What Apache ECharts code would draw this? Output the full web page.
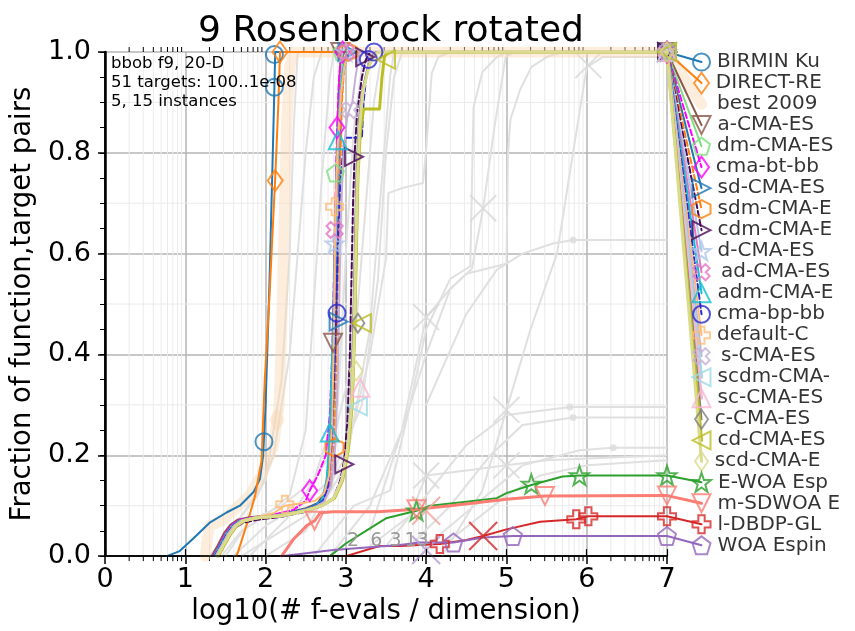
<!DOCTYPE html>
<html><head><meta charset="utf-8">
<script src="https://cdn.jsdelivr.net/npm/echarts/dist/echarts.min.js"></script>
<style>html,body{margin:0;padding:0;background:#fff}#c{width:855px;height:631px}</style>
</head><body><div id="c"></div>
<script>
// ---------- legend names ----------
const NAMES = ['BIRMIN Ku','DIRECT-RE','best 2009','a-CMA-ES','dm-CMA-ES','cma-bt-bb','sd-CMA-ES','sdm-CMA-E','cdm-CMA-E','d-CMA-ES','ad-CMA-ES','adm-CMA-E','cma-bp-bb','default-C','s-CMA-ES','scdm-CMA-','sc-CMA-ES','c-CMA-ES','cd-CMA-ES','scd-CMA-E','E-WOA Esp','m-SDWOA E','l-DBDP-GL','WOA Espin'];
const X_TICKS = [0,1,2,3,4,5,6,7];

// ---------- series values [log10(evals/dim), fraction] ----------
const BIRMIN = [[0.77,0],[0.93,0.01],[1.1,0.035],[1.31,0.067],[1.52,0.087],[1.68,0.1],[1.85,0.127],[1.93,0.153],[1.97,0.2],[2.0,0.3],[2.05,0.55],[2.09,0.8],[2.11,0.93],[2.12,1.0],[7,1.0]];
const BIRMIN_M = [[1.98,0.227],[2.11,0.93],[2.11,0.995],[7,1.0]];
const DIRECT = [[1.64,0],[1.72,0.04],[1.79,0.075],[1.87,0.12],[1.95,0.19],[1.99,0.35],[2.05,0.52],[2.12,0.75],[2.16,0.9],[2.18,1.0],[7,1.0]];
const DIRECT_M = [[2.12,0.745],[2.18,1.0],[7,1.0]];
const BEST2009 = [[1.25,0],[1.27,0.03],[1.3,0.06],[1.45,0.07],[1.6,0.09],[1.8,0.12],[1.95,0.16],[2.1,0.22],[2.17,0.3],[2.2,0.45],[2.23,0.65],[2.26,0.85],[2.3,0.97],[2.35,1.0],[7,1.0]];
const BEST2009_M = [[2.14,0.27]];
const A_CMA = [[1.33,0],[1.4,0.02],[1.48,0.045],[1.56,0.062],[1.65,0.072],[1.8,0.077],[2.0,0.08],[2.3,0.087],[2.5,0.095],[2.65,0.105],[2.74,0.13],[2.79,0.18],[2.82,0.28],[2.84,0.42],[2.86,0.58],[2.88,0.74],[2.9,0.87],[2.92,0.95],[2.94,1.0],[7,1.0]];
const A_CMA_M = [[2.84,0.423],[2.93,1.0],[7,1.0]];
const DM_CMA = [[1.37,0],[1.44,0.02],[1.52,0.042],[1.6,0.06],[1.68,0.07],[1.85,0.076],[2.1,0.08],[2.35,0.087],[2.55,0.095],[2.68,0.106],[2.77,0.13],[2.82,0.19],[2.85,0.3],[2.87,0.5],[2.88,0.65],[2.89,0.76],[2.91,0.87],[2.94,0.95],[2.97,1.0],[7,1.0]];
const DM_CMA_M = [[2.87,0.76],[2.95,1.0],[7,1.0]];
const CMA_BT = [[1.35,0],[1.42,0.02],[1.5,0.045],[1.58,0.062],[1.68,0.072],[1.85,0.077],[2.1,0.082],[2.35,0.092],[2.5,0.11],[2.55,0.13],[2.65,0.16],[2.75,0.2],[2.8,0.28],[2.83,0.4],[2.85,0.55],[2.87,0.7],[2.89,0.84],[2.91,0.93],[2.94,1.0],[7,1.0]];
const CMA_BT_M = [[2.55,0.13],[2.89,0.85],[2.96,1.0],[7,1.0]];
const SD_CMA = [[1.36,0],[1.43,0.02],[1.51,0.042],[1.6,0.06],[1.7,0.07],[1.85,0.076],[2.1,0.08],[2.35,0.088],[2.55,0.096],[2.68,0.108],[2.76,0.135],[2.81,0.2],[2.85,0.33],[2.88,0.47],[2.9,0.63],[2.92,0.78],[2.94,0.9],[2.97,0.96],[3.02,1.0],[7,1.0]];
const SD_CMA_M = [[2.91,0.465],[3.02,1.0],[7,1.0]];
const SDM_CMA = [[1.37,0],[1.44,0.02],[1.52,0.043],[1.6,0.06],[1.7,0.07],[1.85,0.076],[2.1,0.08],[2.4,0.088],[2.6,0.097],[2.72,0.11],[2.8,0.14],[2.85,0.2],[2.87,0.3],[2.89,0.45],[2.91,0.62],[2.93,0.78],[2.95,0.9],[2.98,0.97],[3.03,1.0],[7,1.0]];
const SDM_CMA_M = [[2.86,0.215],[3.03,1.0],[7,1.0]];
const CDM_CMA = [[1.4,0],[1.47,0.02],[1.55,0.04],[1.63,0.057],[1.72,0.066],[1.9,0.072],[2.2,0.078],[2.5,0.088],[2.7,0.1],[2.84,0.113],[2.93,0.15],[2.98,0.19],[3.02,0.27],[3.05,0.4],[3.07,0.55],[3.09,0.7],[3.11,0.8],[3.14,0.88],[3.2,0.95],[3.25,0.985],[3.3,1.0],[7,1.0]];
const CDM_CMA_M = [[2.98,0.182],[3.1,0.792],[3.24,0.99],[7,1.0]];
const D_CMA = [[1.38,0],[1.45,0.02],[1.53,0.043],[1.61,0.06],[1.7,0.07],[1.85,0.076],[2.1,0.08],[2.4,0.088],[2.6,0.097],[2.72,0.11],[2.79,0.14],[2.83,0.22],[2.85,0.36],[2.86,0.5],[2.87,0.62],[2.9,0.78],[2.93,0.9],[2.97,0.97],[3.02,1.0],[7,1.0]];
const D_CMA_M = [[2.86,0.62],[3.0,1.0],[7,1.0]];
const AD_CMA = [[1.37,0],[1.44,0.02],[1.52,0.044],[1.6,0.061],[1.7,0.07],[1.85,0.076],[2.1,0.08],[2.4,0.088],[2.6,0.096],[2.72,0.11],[2.79,0.14],[2.83,0.23],[2.85,0.38],[2.86,0.52],[2.87,0.65],[2.9,0.8],[2.93,0.91],[2.97,0.97],[3.02,1.0],[7,1.0]];
const AD_CMA_M = [[2.86,0.647],[3.0,1.0],[7,1.0]];
const ADM_CMA = [[1.36,0],[1.43,0.02],[1.51,0.044],[1.59,0.061],[1.68,0.07],[1.85,0.076],[2.1,0.08],[2.4,0.088],[2.6,0.097],[2.7,0.11],[2.76,0.15],[2.79,0.22],[2.81,0.3],[2.84,0.45],[2.86,0.6],[2.88,0.74],[2.9,0.83],[2.93,0.92],[2.97,0.97],[3.02,1.0],[7,1.0]];
const ADM_CMA_M = [[2.8,0.245],[2.9,0.825],[7,1.0]];
const CMA_BP = [[1.37,0],[1.44,0.02],[1.52,0.044],[1.6,0.061],[1.7,0.07],[1.85,0.076],[2.1,0.08],[2.4,0.088],[2.6,0.097],[2.72,0.11],[2.78,0.14],[2.82,0.22],[2.85,0.33],[2.88,0.48],[2.9,0.62],[2.93,0.74],[2.97,0.81],[2.99,0.83],[3.2,0.83],[3.22,0.9],[3.26,0.96],[3.3,0.99],[3.36,1.0],[7,1.0]];
const CMA_BP_M = [[2.89,0.482],[3.28,0.985],[3.35,1.0],[7,1.0]];
const DEFAULT_C = [[1.38,0],[1.45,0.02],[1.53,0.044],[1.61,0.061],[1.7,0.07],[1.85,0.076],[2.1,0.085],[2.24,0.1],[2.45,0.105],[2.62,0.11],[2.73,0.125],[2.79,0.16],[2.83,0.27],[2.85,0.43],[2.86,0.57],[2.87,0.69],[2.9,0.82],[2.94,0.92],[2.98,0.97],[3.03,1.0],[7,1.0]];
const DEFAULT_C_M = [[2.24,0.103],[2.86,0.693],[7,1.0]];
const S_CMA = [[1.38,0],[1.45,0.02],[1.53,0.043],[1.61,0.06],[1.7,0.07],[1.85,0.076],[2.1,0.08],[2.4,0.088],[2.6,0.096],[2.73,0.108],[2.82,0.14],[2.87,0.22],[2.9,0.36],[2.92,0.52],[2.94,0.68],[2.97,0.8],[3.02,0.875],[3.08,0.9],[3.12,0.95],[3.17,1.0],[7,1.0]];
const S_CMA_M = [[3.05,0.885],[7,1.0]];
const SCDM_CMA = [[1.4,0],[1.47,0.02],[1.55,0.043],[1.63,0.06],[1.72,0.07],[1.9,0.076],[2.2,0.08],[2.5,0.09],[2.7,0.1],[2.85,0.115],[2.95,0.15],[3.02,0.21],[3.07,0.3],[3.1,0.45],[3.12,0.6],[3.14,0.75],[3.17,0.86],[3.21,0.92],[3.24,0.944],[3.28,0.97],[3.33,1.0],[7,1.0]];
const SCDM_CMA_M = [[3.15,0.297],[7,1.0]];
const SC_CMA = [[1.41,0],[1.48,0.02],[1.56,0.043],[1.64,0.06],[1.73,0.07],[1.9,0.076],[2.2,0.08],[2.5,0.09],[2.7,0.1],[2.85,0.115],[2.95,0.15],[3.03,0.22],[3.08,0.32],[3.11,0.47],[3.13,0.62],[3.15,0.77],[3.18,0.87],[3.22,0.93],[3.28,0.97],[3.34,1.0],[7,1.0]];
const SC_CMA_M = [[3.18,0.334],[7,1.0]];
const C_CMA = [[1.4,0],[1.47,0.02],[1.55,0.043],[1.63,0.06],[1.72,0.07],[1.9,0.076],[2.2,0.08],[2.5,0.09],[2.7,0.1],[2.85,0.115],[2.95,0.15],[3.02,0.21],[3.06,0.3],[3.09,0.45],[3.11,0.6],[3.13,0.75],[3.16,0.86],[3.2,0.92],[3.26,0.96],[3.32,0.99],[3.38,1.0],[7,1.0]];
const C_CMA_M = [[3.15,0.462],[7,1.0]];
const CD_CMA = [[1.41,0],[1.48,0.02],[1.56,0.043],[1.64,0.06],[1.73,0.07],[1.9,0.076],[2.2,0.08],[2.5,0.09],[2.7,0.1],[2.86,0.115],[2.96,0.15],[3.03,0.21],[3.08,0.3],[3.11,0.45],[3.13,0.6],[3.15,0.75],[3.18,0.84],[3.22,0.887],[3.42,0.887],[3.45,0.95],[3.48,0.99],[3.52,1.0],[7,1.0]];
const CD_CMA_M = [[3.2,0.462],[3.5,0.985],[7,1.0]];
const SCD_CMA = [[1.4,0],[1.47,0.02],[1.55,0.043],[1.63,0.06],[1.72,0.07],[1.9,0.076],[2.2,0.08],[2.5,0.09],[2.7,0.1],[2.85,0.115],[2.95,0.15],[3.02,0.21],[3.07,0.3],[3.1,0.42],[3.12,0.58],[3.14,0.73],[3.17,0.85],[3.21,0.92],[3.27,0.96],[3.33,0.99],[3.4,1.0],[7,1.0]];
const SCD_CMA_M = [[3.13,0.367],[7,1.0]];
const E_WOA = [[2.8,0],[3.0,0.025],[3.25,0.05],[3.5,0.075],[3.88,0.09],[4.05,0.1],[4.5,0.108],[4.88,0.115],[5.0,0.125],[5.31,0.141],[5.7,0.158],[5.91,0.16],[7,0.16]];
const E_WOA_M = [[3.88,0.09],[5.31,0.143],[5.91,0.16],[7,0.16]];
const M_SDWOA = [[2.2,0],[2.35,0.034],[2.51,0.06],[2.61,0.07],[2.68,0.086],[2.84,0.088],[3.4,0.088],[3.88,0.093],[4.3,0.1],[5.0,0.113],[5.48,0.119],[7,0.12]];
const M_SDWOA_M = [[2.61,0.07],[3.88,0.093],[5.48,0.119],[7,0.12]];
const L_DBDP = [[3.0,0],[3.42,0.02],[3.67,0.02],[4.17,0.024],[4.5,0.032],[4.71,0.04],[5.0,0.053],[5.42,0.068],[5.87,0.073],[6.02,0.079],[7,0.079]];
const L_DBDP_M = [[4.17,0.024],[5.87,0.073],[6.02,0.079],[7,0.079]];
const WOA = [[2.22,0],[2.84,0.012],[3.67,0.022],[3.92,0.027],[4.34,0.027],[4.71,0.037],[5.08,0.04],[7,0.04]];
const WOA_M = [[4.34,0.027],[5.08,0.04],[7,0.04]];

// background (other algorithms, grey)
const GRAY_1 = [[1.3,0],[1.6,0.06],[1.9,0.12],[2.1,0.2],[2.3,0.4],[2.4,0.6],[2.5,0.8],[2.6,0.95],[2.7,1.0]];
const GRAY_2 = [[1.45,0],[1.7,0.05],[2.0,0.08],[2.3,0.12],[2.5,0.25],[2.6,0.5],[2.7,0.75],[2.8,0.95],[2.85,1.0]];
const GRAY_3 = [[1.5,0],[1.8,0.07],[2.2,0.1],[2.6,0.15],[2.9,0.3],[3.0,0.6],[3.1,0.85],[3.2,0.97],[3.3,1.0]];
const GRAY_4 = [[1.6,0],[2.0,0.06],[2.4,0.1],[2.8,0.2],[3.1,0.4],[3.25,0.7],[3.35,0.9],[3.45,1.0]];
const GRAY_5 = [[1.7,0],[2.2,0.05],[2.7,0.1],[3.0,0.18],[3.3,0.45],[3.45,0.75],[3.55,0.95],[3.6,1.0]];
const GRAY_6 = [[2.0,0],[2.5,0.05],[3.0,0.2],[3.3,0.4],[3.5,0.59],[3.53,0.72],[3.7,0.73],[3.96,0.74],[4.0,0.805],[4.07,0.958],[4.15,0.99],[4.3,1.0]];
const GRAY_7 = [[2.6,0],[3.1,0.1],[3.55,0.13],[3.8,0.3],[4.0,0.45],[4.3,0.55],[4.55,0.575],[4.59,0.89],[4.7,0.96],[4.88,0.99],[5.0,1.0]];
const GRAY_8 = [[2.8,0],[3.3,0.1],[3.7,0.25],[4.0,0.474],[4.3,0.53],[4.57,0.57],[4.71,0.69],[4.85,0.85],[4.99,0.99],[5.1,1.0]];
const GRAY_9 = [[3.3,0.05],[3.6,0.2],[4.0,0.4],[4.3,0.53],[4.5,0.56],[5.0,0.58],[5.02,0.8],[5.05,0.866],[5.17,0.925],[5.31,0.97],[5.5,0.99],[5.7,1.0]];
const GRAY_10 = [[4.2,0],[4.7,0.13],[5.0,0.29],[5.3,0.45],[5.63,0.6],[5.8,0.77],[6.0,0.97],[6.2,0.99],[7,0.99]];
const GRAY_11 = [[3.5,0.02],[4.0,0.12],[4.5,0.22],[5.0,0.28],[5.5,0.29],[5.79,0.296],[7,0.296]];
const GRAY_12 = [[3.8,0.02],[4.3,0.1],[4.8,0.2],[5.2,0.26],[5.83,0.275],[7,0.275]];
const GRAY_13 = [[4.0,0.02],[4.6,0.1],[5.2,0.18],[5.91,0.21],[6.33,0.215],[7,0.215]];
const GRAY_14 = [[4.2,0.02],[5.0,0.12],[5.42,0.16],[6.0,0.18],[7,0.19]];
const GRAY_15 = [[4.0,0.3],[4.5,0.48],[4.88,0.568],[5.2,0.6],[5.58,0.62],[5.83,0.627],[7,0.627]];
const GRAY_16 = [[3.3,0.02],[3.8,0.08],[4.0,0.16],[4.5,0.17],[5.0,0.18],[5.5,0.19],[7,0.2]];
const GRAY_17 = [[1.8,0],[2.3,0.08],[2.8,0.15],[3.2,0.3],[3.4,0.55],[3.5,0.8],[3.6,0.95],[3.7,1.0]];
const GRAY_18 = [[1.4,0],[1.7,0.08],[2.0,0.15],[2.2,0.35],[2.3,0.6],[2.35,0.85],[2.4,1.0]];
const GRAY_X = [[4.0,0.474],[5.0,0.29],[4.0,0.16],[5.0,0.18],[4.71,0.69],[6.02,0.974]];
const GRAY_DOTS = [[5.79,0.296],[5.83,0.275],[6.33,0.215],[5.83,0.627]];
const EXTRA_X = [[4.71,0.04,'#d62728'],[4.0,0.09,'#f4a39b'],[4.0,0.012,'#b39bd6']];
const COUNT_TEXT = [[3.09,0.03,'2'],[3.38,0.03,'6'],[3.62,0.03,'3'],[3.88,0.03,'13']];

// ---------- styles ----------
const P = {
  pent:'path://M0,-10L9.51,-3.09L5.88,8.09L-5.88,8.09L-9.51,-3.09Z',
  hex:'path://M0,-10L8.66,-5L8.66,5L0,10L-8.66,5L-8.66,-5Z',
  star:'path://M0,-10L2.35,-3.24L9.51,-3.09L3.8,1.24L5.88,8.09L0,4L-5.88,8.09L-3.8,1.24L-9.51,-3.09L-2.35,-3.24Z',
  plus:'path://M-3.5,-10L3.5,-10L3.5,-3.5L10,-3.5L10,3.5L3.5,3.5L3.5,10L-3.5,10L-3.5,3.5L-10,3.5L-10,-3.5L-3.5,-3.5Z',
  cross:'path://M-10,-10L10,10M-10,10L10,-10'
};
const STYLE = [
  {c:'#1f77b4', s:'circle', sz:17, w:2},
  {c:'#ff7f0e', s:'diamond', sz:[15,21], w:2},
  {c:'rgba(249,215,180,0.45)', s:'none', sz:0, w:11},
  {c:'#8c564b', s:'triangle', r:180, sz:18, w:2},
  {c:'#7ee07e', s:P.pent, sz:17, w:2},
  {c:'#ff00ff', s:'diamond', sz:[15,21], w:2, d:[6,3]},
  {c:'#1f77b4', s:'triangle', r:-90, sz:18, w:2},
  {c:'#ff7f0e', s:P.hex, sz:18, w:2, d:[6,3]},
  {c:'#4a0a5a', s:'triangle', r:-90, sz:18, w:2, d:[6,3]},
  {c:'#aec7e8', s:P.star, sz:18, w:2},
  {c:'#e377c2', s:P.plus, r:45, sz:17, w:2},
  {c:'#17becf', s:'triangle', sz:18, w:2},
  {c:'#2a2ad0', s:'circle', sz:17, w:2, d:[6,3]},
  {c:'#ffbb78', s:P.plus, sz:17, w:2},
  {c:'#c5b0d5', s:P.plus, r:45, sz:17, w:2},
  {c:'#9edae5', s:'triangle', r:90, sz:18, w:3},
  {c:'#f7b6d2', s:'triangle', sz:18, w:3},
  {c:'#7f7f7f', s:'diamond', sz:[13,19], w:2},
  {c:'#bcbd22', s:'triangle', r:90, sz:18, w:3},
  {c:'#dbdb8d', s:'diamond', sz:[13,19], w:3},
  {c:'#2ca02c', s:P.star, sz:19, w:2},
  {c:'#fb7d74', s:'triangle', r:180, sz:18, w:3},
  {c:'#d62728', s:P.plus, sz:18, w:2},
  {c:'#9467bd', s:P.pent, sz:18, w:2}
];
const LINES = [BIRMIN,DIRECT,BEST2009,A_CMA,DM_CMA,CMA_BT,SD_CMA,SDM_CMA,CDM_CMA,D_CMA,AD_CMA,ADM_CMA,CMA_BP,DEFAULT_C,S_CMA,SCDM_CMA,SC_CMA,C_CMA,CD_CMA,SCD_CMA,E_WOA,M_SDWOA,L_DBDP,WOA];
const MARKS = [BIRMIN_M,DIRECT_M,BEST2009_M,A_CMA_M,DM_CMA_M,CMA_BT_M,SD_CMA_M,SDM_CMA_M,CDM_CMA_M,D_CMA_M,AD_CMA_M,ADM_CMA_M,CMA_BP_M,DEFAULT_C_M,S_CMA_M,SCDM_CMA_M,SC_CMA_M,C_CMA_M,CD_CMA_M,SCD_CMA_M,E_WOA_M,M_SDWOA_M,L_DBDP_M,WOA_M];
const GRAYS = [GRAY_1,GRAY_2,GRAY_3,GRAY_4,GRAY_5,GRAY_6,GRAY_7,GRAY_8,GRAY_9,GRAY_10,GRAY_11,GRAY_12,GRAY_13,GRAY_14,GRAY_15,GRAY_16,GRAY_17,GRAY_18];

// legend layout (axis units, drawn outside the plot on the right)
const LEG_X = 7.43, LEG_TOP = 0.980, LEG_STEP = 0.04168;
const FONT = 'DejaVu Sans';

const MINOR_X = [];
for (let n = 0; n < 7; n++) for (let k = 2; k <= 9; k++) MINOR_X.push([n + Math.log10(k), 0]);
const MINOR_Y = [[0.1,0],[0.3,0],[0.5,0],[0.7,0],[0.9,0]];

const series = [];
series.push({type:'custom', silent:true, z:0, data:MINOR_X, clip:false,
  renderItem:(p, api) => {
    const v = api.value(0); const a = api.coord([v,0]); const b = api.coord([v,1]);
    return {type:'group', children:[
      {type:'line', shape:{x1:a[0],y1:a[1],x2:b[0],y2:b[1]}, style:{stroke:'#ebebeb', lineWidth:1}},
      {type:'line', shape:{x1:a[0],y1:a[1],x2:a[0],y2:a[1]+5}, style:{stroke:'#000', lineWidth:1}},
      {type:'line', shape:{x1:b[0],y1:b[1],x2:b[0],y2:b[1]-5}, style:{stroke:'#000', lineWidth:1}}
    ]};
  }});
series.push({type:'custom', silent:true, z:0, data:MINOR_Y, clip:false,
  renderItem:(p, api) => {
    const v = api.value(0); const a = api.coord([0,v]); const b = api.coord([7,v]);
    return {type:'line', shape:{x1:a[0],y1:a[1],x2:b[0],y2:b[1]}, style:{stroke:'#ebebeb', lineWidth:1}};
  }});
GRAYS.forEach(g => series.push({type:'line', data:g, symbol:'none', silent:true, z:1,
  lineStyle:{color:'#e0e0e0', width:2}}));
series.push({type:'scatter', data:GRAY_X, symbol:P.cross, symbolSize:26, silent:true, z:1,
  itemStyle:{color:'transparent', borderColor:'#d8d8d8', borderWidth:2}});
series.push({type:'scatter', data:GRAY_DOTS, symbol:'circle', symbolSize:7, silent:true, z:1,
  itemStyle:{color:'#dcdcdc'}});
series.push({type:'custom', silent:true, z:6, clip:false,
  data:COUNT_TEXT.map(t => [t[0], t[1]]),
  renderItem:(p, api) => {
    const a = api.coord([api.value(0), api.value(1)]);
    return {type:'text', x:a[0], y:a[1], style:{text:COUNT_TEXT[p.dataIndex][2], fill:'#999',
      font:'19px "DejaVu Sans"', align:'center', verticalAlign:'middle'}};
  }});

LINES.forEach((pts, i) => {
  const st = STYLE[i];
  const ly = LEG_TOP - LEG_STEP * i;
  const last = pts[pts.length - 1];
  const dash = st.d ? st.d : null;
  series.push({type:'line', name:NAMES[i], data:pts, symbol:'none',
    z: i === 2 ? 2 : 3, silent:true,
    lineStyle:{color:st.c, width:st.w, type: dash ? dash : 'solid', cap:'round', join:'round'}});
  // connector from the curve end to its legend entry
  series.push({type:'custom', silent:true, clip:false, z: i === 2 ? 2 : 3,
    data:[[last[0], last[1], LEG_X, ly]], encode:{x:[0,2], y:[1,3]},
    renderItem:(p, api) => {
      const a = api.coord([api.value(0), api.value(1)]);
      const b = api.coord([api.value(2), api.value(3)]);
      return {type:'line', shape:{x1:a[0],y1:a[1],x2:b[0],y2:b[1]},
        style:{stroke:st.c, lineWidth:st.w, lineDash:dash, lineCap:'round'}};
    }});
  if (st.s !== 'none') {
    series.push({type:'scatter', data:MARKS[i], symbol:st.s, symbolSize:st.sz, symbolRotate:st.r || 0,
      z:4, silent:true, clip:false,
      itemStyle:{color:'transparent', borderColor:st.c, borderWidth:2}});
  } else {
    series.push({type:'scatter', data:MARKS[i], symbol:'diamond', symbolSize:[16,26], z:2, silent:true,
      itemStyle:{color:'rgba(249,215,180,0.5)'}});
  }
  series.push({type:'scatter', data:[[LEG_X, ly]], symbol: st.s === 'none' ? 'circle' : st.s,
    symbolSize: st.s === 'none' ? 17 : st.sz, symbolRotate:st.r || 0, z:5, silent:true, clip:false,
    itemStyle:{color:'transparent', borderColor: st.s === 'none' ? 'transparent' : st.c, borderWidth:2},
    label:{show:true, position:'right', distance:6, formatter:NAMES[i],
      color:'#000', fontSize:20, fontFamily:FONT}});
});
EXTRA_X.forEach(e => series.push({type:'scatter', data:[[e[0],e[1]]], symbol:P.cross, symbolSize:28, z:3, silent:true,
  itemStyle:{color:'transparent', borderColor:e[2], borderWidth:2}}));

const chart = echarts.init(document.getElementById('c'), null, {renderer:'canvas'});
chart.setOption({
  animation:false,
  backgroundColor:'#fff',
  textStyle:{fontFamily:FONT},
  title:{text:'9 Rosenbrock rotated', left:386, textAlign:'center', top:9,
    textStyle:{fontSize:36, fontWeight:'normal', color:'#000', fontFamily:FONT}},
  graphic:[{type:'text', left:111, top:54, z:100, style:{text:'bbob f9, 20-D\n51 targets: 100..1e-08\n5, 15 instances',
    font:'16.5px "DejaVu Sans"', fill:'#000', lineHeight:19.2}}],
  grid:{left:105, top:52, width:562, height:505},
  xAxis:[
    {type:'value', min:0, max:7, interval:1, position:'bottom',
      name:'log10(# f-evals / dimension)', nameLocation:'middle', nameGap:36,
      nameTextStyle:{fontSize:27.5, color:'#000', fontFamily:FONT},
      axisLine:{lineStyle:{color:'#000', width:1.5}},
      axisTick:{show:true, length:8, lineStyle:{color:'#000', width:1.5}},
      axisLabel:{fontSize:27, color:'#000', margin:10, formatter:v => X_TICKS.indexOf(v) >= 0 ? String(v) : ''},
      splitLine:{show:true, lineStyle:{color:'#b4b4b4', width:1.5}}},
    {type:'value', min:0, max:7, interval:1, position:'top', z:10,
      axisLine:{show:true, lineStyle:{color:'#000', width:1.5}},
      axisTick:{show:true, length:7, lineStyle:{color:'#000', width:1.2}},
      axisLabel:{show:false}, splitLine:{show:false}}
  ],
  yAxis:[
    {type:'value', min:0, max:1, interval:0.2, position:'left',
      name:'Fraction of function,target pairs', nameLocation:'middle', nameGap:54,
      nameTextStyle:{fontSize:27.5, color:'#000', fontFamily:FONT},
      axisLine:{show:true, lineStyle:{color:'#000', width:1.5}},
      axisTick:{show:true, length:7, lineStyle:{color:'#000', width:1.5}},
      minorTick:{show:true, splitNumber:4, length:4, lineStyle:{color:'#000', width:1}},
      axisLabel:{fontSize:27, color:'#000', margin:14, formatter:v => v.toFixed(1)},
      splitLine:{show:true, lineStyle:{color:'#b4b4b4', width:1.5}}},
    {type:'value', min:0, max:1, interval:0.05, position:'right', z:10,
      axisLine:{show:true, lineStyle:{color:'#000', width:2.5}},
      axisTick:{show:true, inside:true, length:5, lineStyle:{color:'#000', width:1}},
      axisLabel:{show:false}, splitLine:{show:false}}
  ],
  series:series
});
</script></body></html>
